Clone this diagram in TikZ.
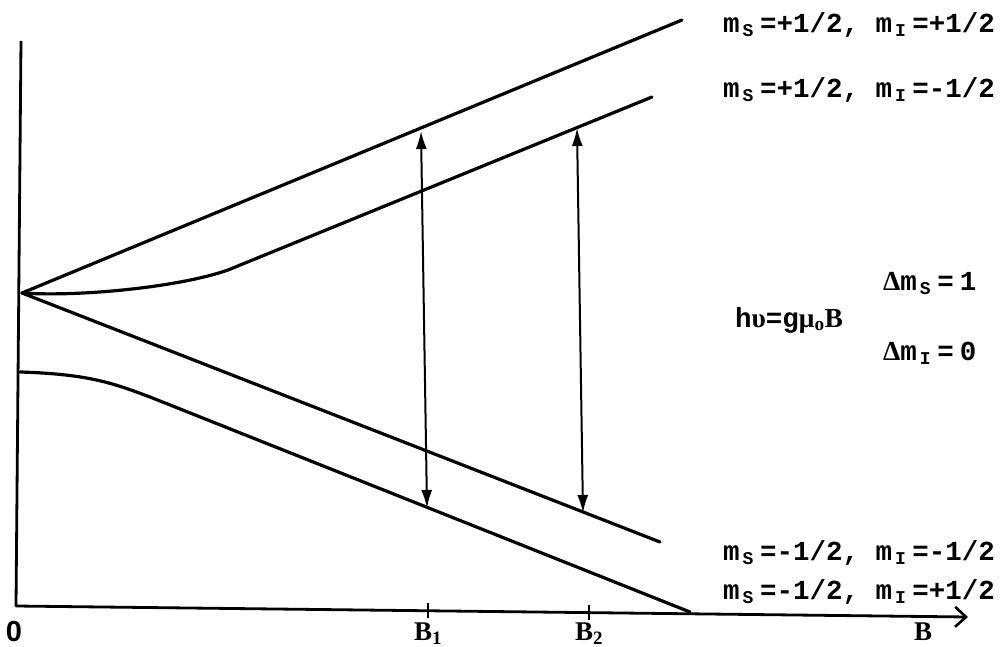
\documentclass[tikz,border=0pt]{standalone}
\usepackage{fontspec}
\setmainfont{Liberation Serif}
\newfontfamily\monofam{Liberation Mono}
\newfontfamily\sansfam{Liberation Sans}
\usetikzlibrary{arrows.meta}
\newcommand{\qsub}[1]{\kern3pt\raisebox{-4pt}{\fontsize{18}{18}\selectfont #1}\kern6.5pt}
\begin{document}
\begin{tikzpicture}[x=1pt,y=-1pt,
  level/.style={line width=3.2pt,line cap=round,line join=round},
  axisline/.style={line width=2.8pt,line join=round},
  trans/.style={line width=2pt},
  tick/.style={line width=2pt},
  statelbl/.style={anchor=west,inner sep=0pt,font=\monofam\bfseries\fontsize{27.5}{30}\selectfont},
  axlbl/.style={inner sep=0pt,font=\bfseries\fontsize{27}{30}\selectfont}]
\useasboundingbox (0,0) rectangle (1003,647);
% axes
\coordinate (ytop) at (21,41);
\coordinate (orig) at (16,606);
\coordinate (xend) at (968,617);
\draw[axisline,-{Straight Barb[length=11pt,width=20pt,line width=2.6pt]}] (ytop) -- (orig) -- (xend);
% energy levels
\coordinate (Z) at (22,293);
\coordinate (L1end) at (682,20);
\coordinate (L2end) at (652,97);
\coordinate (L3end) at (660,542);
\coordinate (L4start) at (20,372);
\coordinate (L4end) at (690,612);
\draw[level] (Z) -- (L1end);
\draw[level] (Z) .. controls (80,297) and (180,287) .. (228,270) -- (L2end);
\draw[level] (Z) -- (L3end);
\draw[level] (L4start) .. controls (90,374) and (115,384) .. (150,397) -- (L4end);
% transitions
\coordinate (a1) at (421,131);
\coordinate (b1) at (427,508);
\coordinate (a2) at (577,128);
\coordinate (b2) at (583,513);
\draw[trans,{Latex[length=18pt,width=11pt]}-{Latex[length=18pt,width=11pt]}] (a1) -- (b1);
\draw[trans,{Latex[length=18pt,width=11pt]}-{Latex[length=18pt,width=11pt]}] (a2) -- (b2);
% ticks
\coordinate (t1a) at (428,603);
\coordinate (t1b) at (428,618);
\coordinate (t2a) at (589,605);
\coordinate (t2b) at (589,620);
\draw[tick] (t1a) -- (t1b);
\draw[tick] (t2a) -- (t2b);
% labels
\node[inner sep=0pt,font=\sansfam\bfseries\fontsize{29}{32}\selectfont] (zero) at (14,632) {0};
\node[axlbl] (lB1) at (428,634) {B\textsubscript{1}};
\node[axlbl] (lB2) at (589,634) {B\textsubscript{2}};
\node[axlbl] (lB) at (923,632) {B};
\node[statelbl] (s1) at (723,25) {m\qsub{S}=+1/2, m\qsub{I}=+1/2};
\node[statelbl] (s2) at (723,90) {m\qsub{S}=+1/2, m\qsub{I}=-1/2};
\node[statelbl] (s3) at (723,553) {m\qsub{S}=-1/2, m\qsub{I}=-1/2};
\node[statelbl] (s4) at (723,592) {m\qsub{S}=-1/2, m\qsub{I}=+1/2};
\node[statelbl] (res) at (735,320) {h{\rmfamily υ}=g{\rmfamily μ\textsubscript{o}B}};
\node[statelbl] (dms) at (883,284) {{\rmfamily Δ}m\qsub{S}=\kern6pt1};
\node[statelbl] (dmi) at (883,353) {{\rmfamily Δ}m\qsub{I}=\kern6pt0};
\end{tikzpicture}
\end{document}
